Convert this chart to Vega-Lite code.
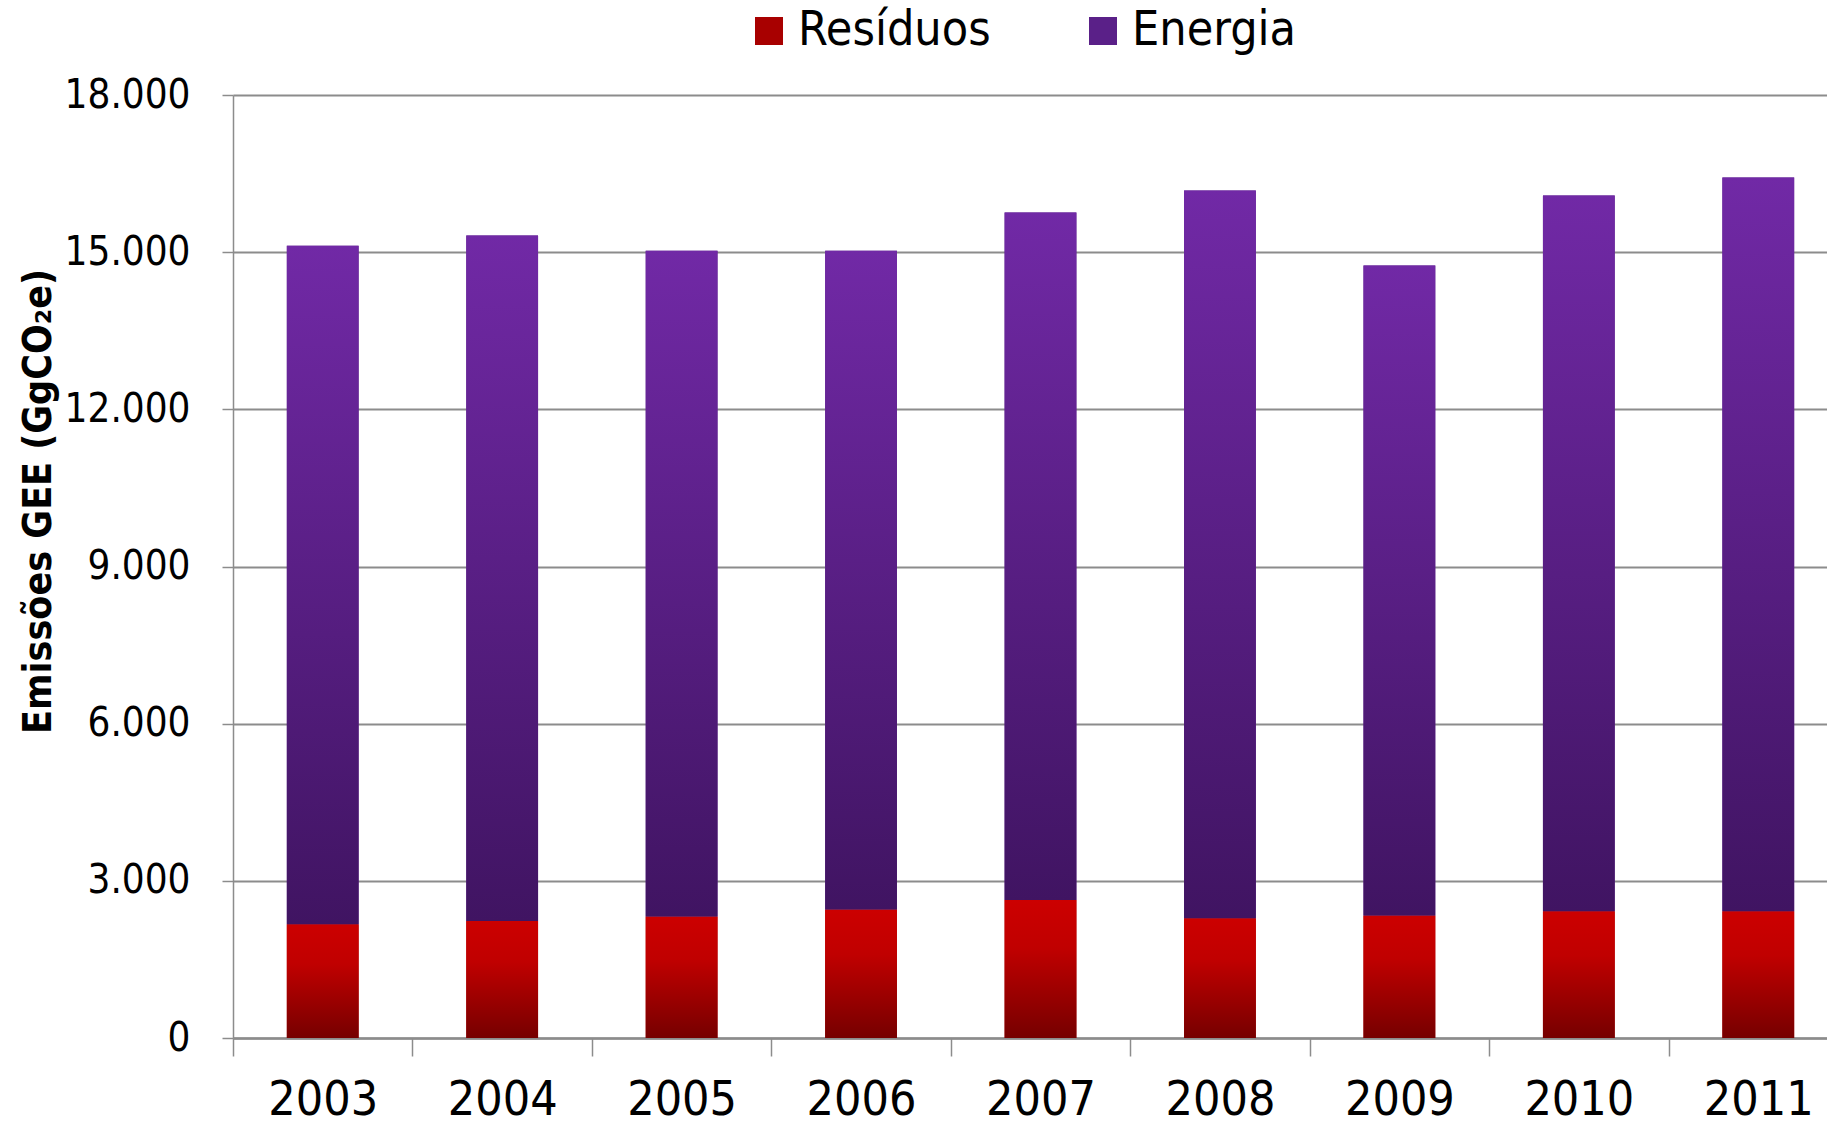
{
  "$schema": "https://vega.github.io/schema/vega-lite/v6.json",
  "width": 1594,
  "height": 943,
  "autosize": {"type": "none"},
  "padding": {"left": 233, "top": 95, "right": 0, "bottom": 90},
  "background": "white",
  "config": {"view": {"stroke": null}},
  "data": {"values": [
    {"ano": "2003", "serie": "Resíduos", "ordem": 1, "valor": 2172},
    {"ano": "2003", "serie": "Energia", "ordem": 2, "valor": 12950},
    {"ano": "2004", "serie": "Resíduos", "ordem": 1, "valor": 2235},
    {"ano": "2004", "serie": "Energia", "ordem": 2, "valor": 13083},
    {"ano": "2005", "serie": "Resíduos", "ordem": 1, "valor": 2317},
    {"ano": "2005", "serie": "Energia", "ordem": 2, "valor": 12710},
    {"ano": "2006", "serie": "Resíduos", "ordem": 1, "valor": 2451},
    {"ano": "2006", "serie": "Energia", "ordem": 2, "valor": 12576},
    {"ano": "2007", "serie": "Resíduos", "ordem": 1, "valor": 2636},
    {"ano": "2007", "serie": "Energia", "ordem": 2, "valor": 13120},
    {"ano": "2008", "serie": "Resíduos", "ordem": 1, "valor": 2286},
    {"ano": "2008", "serie": "Energia", "ordem": 2, "valor": 13889},
    {"ano": "2009", "serie": "Resíduos", "ordem": 1, "valor": 2336},
    {"ano": "2009", "serie": "Energia", "ordem": 2, "valor": 12411},
    {"ano": "2010", "serie": "Resíduos", "ordem": 1, "valor": 2420},
    {"ano": "2010", "serie": "Energia", "ordem": 2, "valor": 13660},
    {"ano": "2011", "serie": "Resíduos", "ordem": 1, "valor": 2420},
    {"ano": "2011", "serie": "Energia", "ordem": 2, "valor": 14003}
  ]},
  "encoding": {
    "x": {
      "field": "ano", "type": "nominal",
      "scale": {"range": [0, 1615], "paddingInner": 0.6, "paddingOuter": 0.3},
      "axis": {
        "title": null, "labelAngle": 0, "grid": false,
        "ticks": true, "tickSize": 18, "tickOffset": -89.7, "labelOffset": 89.7,
        "tickColor": "#8c8c8c", "tickWidth": 1.5,
        "domainColor": "#8c8c8c", "domainWidth": 2.5,
        "labelFont": "DejaVu Sans Condensed, sans-serif",
        "labelFontSize": 48, "labelColor": "black",
        "labelBaseline": "top", "labelPadding": 20
      }
    },
    "y": {
      "field": "valor", "type": "quantitative", "stack": "zero",
      "scale": {"domain": [0, 18000], "nice": false},
      "axis": {
        "values": [0, 3000, 6000, 9000, 12000, 15000, 18000],
        "labelExpr": "replace(format(datum.value, ',d'), ',', '.')",
        "labelFont": "DejaVu Sans Condensed, sans-serif",
        "labelFontSize": 40, "labelColor": "black",
        "tickSize": 11, "tickColor": "#8c8c8c", "tickWidth": 1.5,
        "labelPadding": 32,
        "domainColor": "#8c8c8c", "domainWidth": 1.5,
        "gridColor": "#8c8c8c", "gridWidth": 2,
        "title": "Emissões GEE (GgCO₂e)",
        "titleFont": "DejaVu Sans Condensed, sans-serif",
        "titleFontSize": 39, "titleFontWeight": "bold", "titleColor": "black",
        "titleX": -195, "titleY": 406, "titleAngle": 270,
        "titleAlign": "center", "titleBaseline": "middle"
      }
    },
    "order": {"field": "ordem", "type": "quantitative"}
  },
  "layer": [
    {
      "mark": {"type": "bar"},
      "encoding": {
        "color": {
          "field": "serie", "type": "nominal",
          "sort": ["Resíduos", "Energia"],
          "scale": {"domain": ["Resíduos", "Energia"], "range": ["#A80000", "#5A2088"]},
          "legend": {
            "title": null, "orient": "none", "legendX": 512, "legendY": -88,
            "direction": "horizontal", "symbolType": "square", "symbolSize": 784,
            "symbolStrokeWidth": 0, "padding": 0,
            "labelFont": "DejaVu Sans Condensed, sans-serif",
            "labelFontSize": 48, "labelColor": "black", "labelLimit": 400,
            "labelOffset": 5, "columnPadding": 88
          }
        }
      }
    },
    {
      "mark": {"type": "bar"},
      "encoding": {
        "detail": {"field": "serie", "type": "nominal"},
        "fill": {
          "condition": {
            "test": "datum.serie === 'Energia'",
            "value": {"gradient": "linear", "x1": 0, "y1": 0, "x2": 0, "y2": 1,
              "stops": [{"offset": 0, "color": "#7129A6"}, {"offset": 1, "color": "#401462"}]}
          },
          "value": {"gradient": "linear", "x1": 0, "y1": 0, "x2": 0, "y2": 1,
            "stops": [{"offset": 0, "color": "#CC0000"}, {"offset": 0.35, "color": "#C00000"}, {"offset": 1, "color": "#760000"}]}
        }
      }
    }
  ]
}
